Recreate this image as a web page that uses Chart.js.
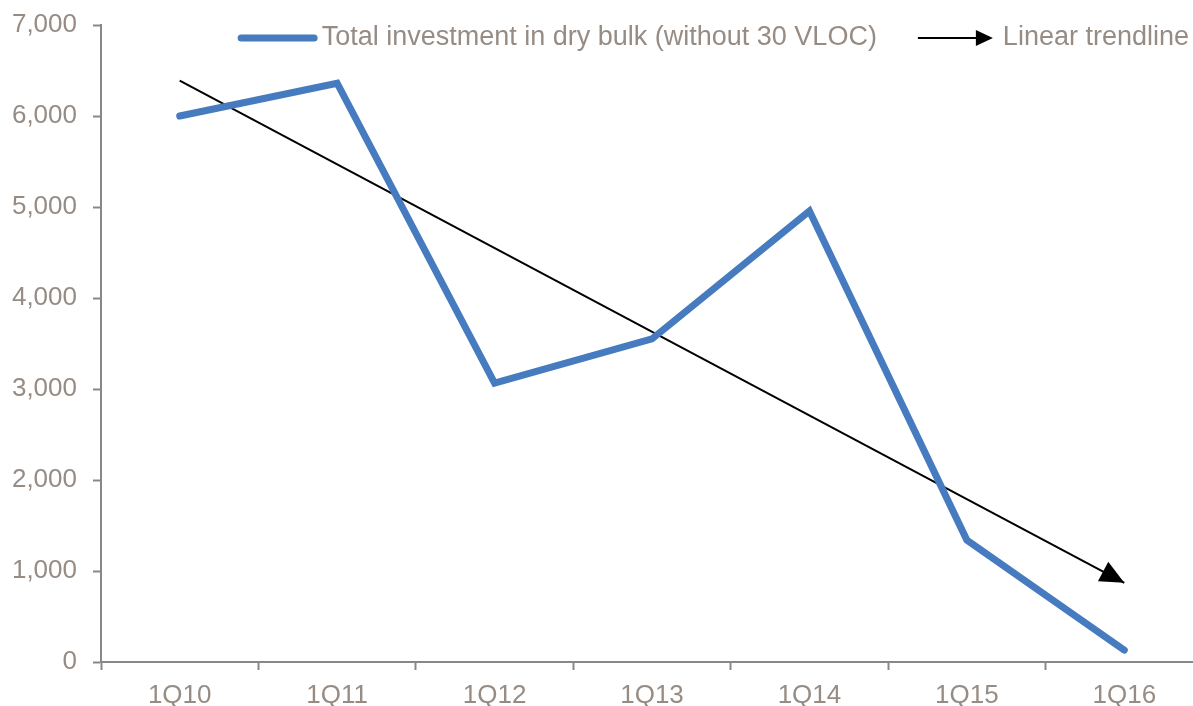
<!DOCTYPE html>
<html>
<head>
<meta charset="utf-8">
<script src="https://cdn.jsdelivr.net/npm/chart.js@4.4.1/dist/chart.umd.min.js"></script>
<style>
    html, body { margin: 0; padding: 0; background: #fff; overflow: hidden; }
    #wrap { position: relative; width: 1205px; height: 706px; }
</style>
</head>
<body>
<div id="wrap"><canvas id="chart"></canvas></div>
<script>
const quarters = ["1Q10", "1Q11", "1Q12", "1Q13", "1Q14", "1Q15", "1Q16"];
const investment = [6000, 6360, 3065, 3550, 4955, 1340, 130];
const trendline = [6390, null, null, null, null, null, 870];
const seriesNames = ["Total investment in dry bulk (without 30 VLOC)", "Linear trendline"];

const blue = "#477bbf";
const textGrey = "#968c84";
const axisGrey = "#88888a";
const fontFamily = "'Liberation Sans', Arial, sans-serif";

function drawArrow(ctx, x, y, ang, len, half) {
    ctx.save();
    ctx.translate(x, y);
    ctx.rotate(ang);
    ctx.fillStyle = "#000";
    ctx.beginPath();
    ctx.moveTo(0, 0);
    ctx.lineTo(-len, -half);
    ctx.lineTo(-len, half);
    ctx.closePath();
    ctx.fill();
    ctx.restore();
}

// arrowhead at the end of the trendline
const arrowHead = {
    id: "arrowHead",
    afterDatasetsDraw(chart) {
        const pts = chart.getDatasetMeta(1).data;
        const a = pts[0], b = pts[pts.length - 1];
        const ang = Math.atan2(b.y - a.y, b.x - a.x);
        drawArrow(chart.ctx, b.x, b.y, ang, 24, 11);
    },
};

// one-row legend inside the plot, right aligned, drawn right to left
const topLegend = {
    id: "topLegend",
    afterDraw(chart) {
        const ctx = chart.ctx;
        const ds = chart.data.datasets;
        const y = chart.chartArea.top + 13;
        ctx.save();
        ctx.font = "27px " + fontFamily;
        ctx.textBaseline = "middle";
        ctx.textAlign = "left";
        ctx.fillStyle = textGrey;

        let x = chart.chartArea.right - 14;
        // trendline item
        const w2 = ctx.measureText(ds[1].label).width;
        x -= w2;
        ctx.fillText(ds[1].label, x, y);
        const tip = x - 10;
        ctx.strokeStyle = "#000";
        ctx.lineWidth = 2;
        ctx.beginPath();
        ctx.moveTo(tip - 75, y);
        ctx.lineTo(tip - 10, y);
        ctx.stroke();
        drawArrow(ctx, tip, y, 0, 17, 8);
        x = tip - 75 - 41;

        // investment item
        const w1 = ctx.measureText(ds[0].label).width;
        x -= w1;
        ctx.fillStyle = textGrey;
        ctx.fillText(ds[0].label, x, y);
        const end = x - 4;
        ctx.strokeStyle = ds[0].borderColor;
        ctx.lineWidth = 7;
        ctx.lineCap = "round";
        ctx.beginPath();
        ctx.moveTo(end - 80 + 3.5, y);
        ctx.lineTo(end - 3.5, y);
        ctx.stroke();
        ctx.restore();
    },
};

const ctx = document.getElementById("chart").getContext("2d");
new Chart(ctx, {
    type: "line",
    data: {
        labels: quarters,
        datasets: [
            {
                label: seriesNames[0],
                data: investment,
                borderColor: blue,
                backgroundColor: blue,
                borderWidth: 7,
                borderCapStyle: "round",
                borderJoinStyle: "miter",
                pointRadius: 0,
                tension: 0,
                order: 0,
            },
            {
                label: seriesNames[1],
                data: trendline,
                borderColor: "#000",
                backgroundColor: "#000",
                borderWidth: 2,
                pointRadius: 0,
                spanGaps: true,
                tension: 0,
                order: 1,
            },
        ],
    },
    options: {
        responsive: true,
        maintainAspectRatio: false,
        animation: false,
        events: [],
        layout: {
            padding: { top: 25, right: 2, bottom: 0, left: 0 },
        },
        plugins: {
            legend: { display: false },
            tooltip: { enabled: false },
        },
        scales: {
            x: {
                offset: true,
                grid: {
                    offset: true,
                    drawOnChartArea: false,
                    drawTicks: true,
                    tickLength: 8,
                    tickWidth: 2,
                    color: axisGrey,
                },
                border: { color: axisGrey, width: 2 },
                ticks: {
                    color: textGrey,
                    padding: 10,
                    maxRotation: 0,
                    font: { family: fontFamily, size: 26 },
                },
                afterFit(scale) {
                    scale.height = 44;
                },
            },
            y: {
                min: 0,
                max: 7000,
                ticks: {
                    stepSize: 1000,
                    color: textGrey,
                    padding: 16,
                    font: { family: fontFamily, size: 26 },
                },
                grid: {
                    drawOnChartArea: false,
                    drawTicks: true,
                    tickLength: 8,
                    tickWidth: 2,
                    color: axisGrey,
                },
                border: { color: axisGrey, width: 2 },
                afterFit(scale) {
                    scale.width = 101;
                    scale.paddingTop = 0;
                    scale.paddingBottom = 0;
                },
            },
        },
    },
    plugins: [arrowHead, topLegend],
});
</script>
</body>
</html>
